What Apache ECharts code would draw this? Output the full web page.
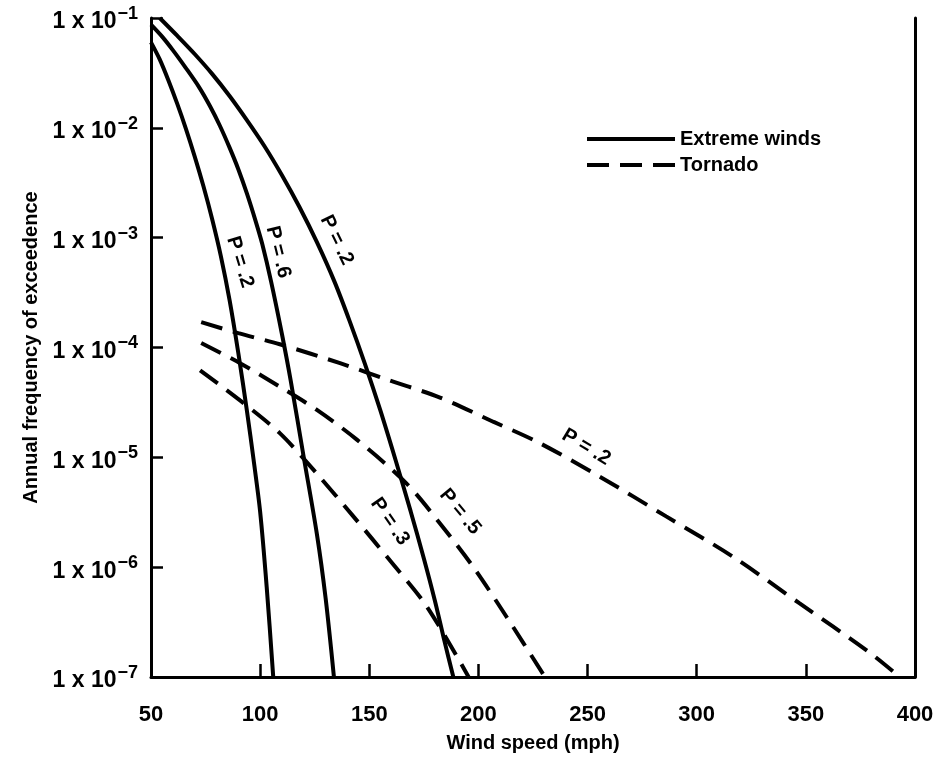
<!DOCTYPE html>
<html>
<head>
<meta charset="utf-8">
<script src="https://cdn.jsdelivr.net/npm/echarts@6/dist/echarts.min.js"></script>
<style>
html,body{margin:0;padding:0;background:#fff;}
#chart{width:937px;height:761px;}
</style>
</head>
<body>
<div id="chart"></div>
<script>
// ---- data (wind speed mph, annual frequency of exceedence) ----
const xTicks = [50, 100, 150, 200, 250, 300, 350, 400];
const yTicks = [1e-1, 1e-2, 1e-3, 1e-4, 1e-5, 1e-6, 1e-7];

const extremeP2right = [[54,1.0e-1],[62,6.9e-2],[70,4.7e-2],[78,3.1e-2],[86,1.95e-2],[94,1.17e-2],[102,6.8e-3],[110,3.7e-3],[118,1.9e-3],[126,9.1e-4],[134,4.0e-4],[141,1.74e-4],[148,7.1e-5],[155,2.7e-5],[162,9.5e-6],[169,3.2e-6],[175,1.2e-6],[180,5.0e-7],[184.5,2.1e-7],[188.5,1.0e-7]];
const extremeP6 = [[50,8.7e-2],[55,6.8e-2],[60,5.1e-2],[66,3.5e-2],[72,2.35e-2],[77,1.58e-2],[81.5,1.05e-2],[86,6.6e-3],[90,4.2e-3],[94,2.5e-3],[98,1.4e-3],[101,8.7e-4],[105,4.0e-4],[110,1.32e-4],[114,5.0e-5],[119.8,1.05e-5],[126,2.0e-6],[130,5.2e-7],[133.8,1.0e-7]];
const extremeP2left = [[50,6.0e-2],[54,4.2e-2],[58,2.7e-2],[62,1.66e-2],[66,9.8e-3],[70,5.5e-3],[74,2.95e-3],[78,1.48e-3],[82,6.8e-4],[86,2.7e-4],[90,8.9e-5],[94,2.6e-5],[97,9.5e-6],[100,3.2e-6],[103,6.6e-7],[106,1.0e-7]];

const tornadoP2 = [[73,1.7e-4],[90,1.35e-4],[109,1.07e-4],[136.6,7.2e-5],[159.5,5.0e-5],[182.4,3.5e-5],[207,2.1e-5],[228,1.35e-5],[256,6.6e-6],[286,2.9e-6],[317,1.23e-6],[347,4.7e-7],[378,1.74e-7],[393,1.0e-7]];
const tornadoP5 = [[73,1.1e-4],[90.8,7.2e-5],[109,4.4e-5],[126,2.7e-5],[144.3,1.45e-5],[167,5.8e-6],[182.4,2.5e-6],[197.7,1.0e-6],[213,3.5e-7],[230.5,1.0e-7]];
const tornadoP3 = [[72.5,6.2e-5],[90.8,3.3e-5],[109,1.66e-5],[126,7.1e-6],[142.7,2.9e-6],[159.5,1.15e-6],[176.3,4.4e-7],[195.5,1.0e-7]];

// curve annotations: text, wind speed, frequency, angle
const curveLabels = [
  ['P = .2', 135.1, 9.5e-4, -64],
  ['P = .6', 108.3, 7.4e-4, -76],
  ['P = .2', 90.8, 6.0e-4, -73],
  ['P = .2', 249.4, 1.24e-5, -31],
  ['P = .5', 191.6, 3.2e-6, -50],
  ['P = .3', 159.5, 2.6e-6, -55]
];
const labelOwner = [0, 1, 2, 3, 4, 5];

const FONT = '"Liberation Sans", Arial, Helvetica, sans-serif';
const DASH = [22, 11];

const curves = [
  {name: 'Extreme winds', data: extremeP2right, dashed: false},
  {name: 'Extreme winds', data: extremeP6, dashed: false},
  {name: 'Extreme winds', data: extremeP2left, dashed: false},
  {name: 'Tornado', data: tornadoP2, dashed: true},
  {name: 'Tornado', data: tornadoP5, dashed: true},
  {name: 'Tornado', data: tornadoP3, dashed: true}
];

const series = curves.map((c, i) => {
  const labs = curveLabels.filter((l, k) => labelOwner[k] === i);
  return {
    type: 'line',
    name: c.name,
    data: c.data,
    symbol: 'none',
    showSymbol: false,
    smooth: 0.3,
    lineStyle: {color: '#000', width: 4, type: c.dashed ? DASH : 'solid', cap: 'butt'},
    itemStyle: {color: '#000'},
    emphasis: {disabled: true},
    markPoint: {
      symbol: 'circle', symbolSize: 0, silent: true,
      data: labs.map(l => ({
        coord: [l[1], l[2]],
        value: l[0],
        label: {show: true, formatter: l[0], rotate: l[3], position: 'inside',
          color: '#000', fontSize: 20, fontWeight: 'bold', fontFamily: FONT}
      }))
    }
  };
});

const chart = echarts.init(document.getElementById('chart'), null, {renderer: 'canvas'});
chart.setOption({
  animation: false,
  backgroundColor: '#fff',
  grid: {left: 151, right: 22, top: 18, bottom: 84},
  legend: {
    data: ['Extreme winds', 'Tornado'],
    orient: 'vertical',
    left: 580, top: 124,
    itemWidth: 88, itemHeight: 20, itemGap: 6,
    itemStyle: {opacity: 0, borderWidth: 0},
    lineStyle: {width: 4, color: '#000'},
    textStyle: {color: '#000', fontSize: 20, fontWeight: 'bold', fontFamily: FONT},
    selectedMode: false
  },
  xAxis: {
    type: 'value', min: xTicks[0], max: xTicks[xTicks.length - 1], interval: 50,
    name: 'Wind speed (mph)', nameLocation: 'middle', nameGap: 56,
    nameTextStyle: {color: '#000', fontSize: 20, fontWeight: 'bold', fontFamily: FONT},
    axisLine: {show: true, lineStyle: {color: '#000', width: 3}},
    axisTick: {show: true, inside: true, length: 13, lineStyle: {color: '#000', width: 2.5}},
    axisLabel: {color: '#000', fontSize: 22, fontWeight: 'bold', fontFamily: FONT, margin: 27},
    splitLine: {show: false}
  },
  yAxis: [{
    type: 'log', logBase: 10, min: yTicks[yTicks.length - 1], max: yTicks[0], splitNumber: 6,
    name: 'Annual frequency of exceedence', nameLocation: 'middle', nameGap: 109,
    nameTextStyle: {color: '#000', fontSize: 20, fontWeight: 'bold', fontFamily: FONT},
    axisLine: {show: true, lineStyle: {color: '#000', width: 3}},
    axisTick: {show: true, inside: true, length: 12, lineStyle: {color: '#000', width: 2.5}},
    axisLabel: {
      margin: 13,
      formatter: v => {
        const e = Math.round(Math.log10(v));
        return '{a|1 x 10}{b|\u2212' + (-e) + '}';
      },
      rich: {
        a: {color: '#000', fontSize: 23, fontWeight: 'bold', fontFamily: FONT, padding: [8, 0, 0, 0]},
        b: {color: '#000', fontSize: 18, fontWeight: 'bold', fontFamily: FONT, padding: [0, 0, 8, 1]}
      }
    },
    splitLine: {show: false}
  }, {
    type: 'log', logBase: 10, min: yTicks[yTicks.length - 1], max: yTicks[0], position: 'right',
    axisLine: {show: true, lineStyle: {color: '#000', width: 3}},
    axisTick: {show: false}, axisLabel: {show: false}, splitLine: {show: false}
  }],
  series: series
});
</script>
</body>
</html>
